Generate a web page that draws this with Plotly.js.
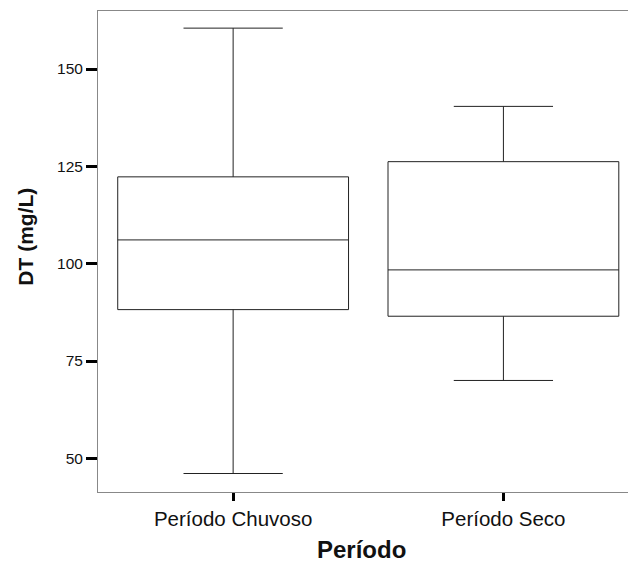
<!DOCTYPE html>
<html>
<head>
<meta charset="utf-8">
<script src="https://cdn.plot.ly/plotly-3.0.1.min.js"></script>
<style>html,body{margin:0;padding:0;background:#fff;}#chart{width:628px;height:565px;}</style>
</head>
<body>
<div id="chart"></div>
<script>
const categories = ["Período Chuvoso", "Período Seco"];
const lowerWhisker = [46.1, 70.0];
const q1Values = [88.2, 86.5];
const medianValues = [106.1, 98.4];
const q3Values = [122.3, 126.2];
const upperWhisker = [160.5, 140.4];
const yTicks = [50, 75, 100, 125, 150];

const trace = {
  type: "box",
  x: categories,
  q1: q1Values,
  median: medianValues,
  q3: q3Values,
  lowerfence: lowerWhisker,
  upperfence: upperWhisker,
  boxpoints: false,
  width: 0.854,
  whiskerwidth: 0.43,
  fillcolor: "#ffffff",
  line: {color: "#222222", width: 1},
  hoverinfo: "skip",
  showlegend: false
};

const layout = {
  width: 628,
  height: 565,
  margin: {l: 97.5, r: 0, t: 11, b: 73},
  paper_bgcolor: "#ffffff",
  plot_bgcolor: "#ffffff",
  font: {family: "Liberation Sans, Arial, sans-serif", color: "#111111"},
  xaxis: {
    type: "category",
    range: [-0.5, 1.461],
    showgrid: false,
    zeroline: false,
    showline: true,
    linecolor: "#888888",
    linewidth: 1,
    mirror: true,
    ticks: "outside",
    ticklen: 8,
    tickwidth: 3,
    tickcolor: "#000000",
    tickfont: {size: 20.5, color: "#111111"},
    fixedrange: true
  },
  yaxis: {
    range: [41.35, 164.9],
    tickvals: yTicks,
    ticktext: yTicks.map(String),
    showgrid: false,
    zeroline: false,
    showline: true,
    linecolor: "#888888",
    linewidth: 1,
    ticks: "outside",
    ticklen: 11,
    tickwidth: 3,
    tickcolor: "#000000",
    tickfont: {size: 15.5, color: "#111111"},
    fixedrange: true
  },
  annotations: [
    {text: "<b>DT (mg/L)</b>", xref: "paper", yref: "paper", x: -0.1385, y: 0.53,
     xanchor: "center", yanchor: "middle", textangle: -90, showarrow: false,
     font: {size: 21, color: "#111111"}},
    {text: "<b>Período</b>", xref: "paper", yref: "paper", x: 0.4967, y: -0.1515,
     xanchor: "center", yanchor: "bottom", showarrow: false,
     font: {size: 24, color: "#111111"}}
  ]
};

Plotly.newPlot("chart", [trace], layout, {displayModeBar: false, staticPlot: true});
</script>
</body>
</html>
